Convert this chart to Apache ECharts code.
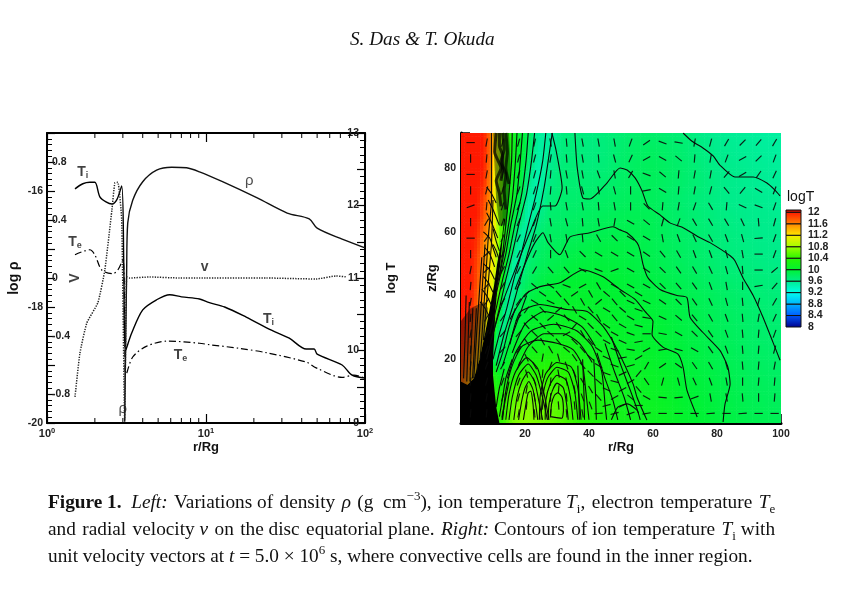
<!DOCTYPE html>
<html><head><meta charset="utf-8">
<style>html,body{margin:0;padding:0;background:#fff}#c{width:846px;height:591px}</style>
<script src="https://cdn.jsdelivr.net/npm/echarts@6/dist/echarts.min.js"></script>
</head><body><div id="c"></div>
<script>
// ---------- left panel data ----------
const rhoR=[3.08,3.17,3.22,3.46,4.00,4.89,6.08,7.55,9.10,12.7,21.0,32.4,44.6,50.0,71.8,100];
const rhoLog=[-19.98,-17.36,-16.55,-16.16,-15.84,-15.64,-15.59,-15.60,-15.67,-15.84,-16.12,-16.38,-16.48,-16.64,-16.83,-16.98];
const tiR=[1.50,1.68,1.86,2.00,2.15,2.35,2.56,2.75,2.95,3.04,3.11,3.41,4.00,4.89,5.91,7.02,9.10,10.5,13.1,17.9,25.8,33.4,42.7,47.9,50.0,71.8,82.9,100];
const tiLog=[12.23,12.30,12.32,12.32,12.12,12.05,12.02,12.08,12.27,11.2,9.99,10.24,10.56,10.70,10.77,10.74,10.71,10.66,10.60,10.46,10.28,10.17,10.02,10.02,9.95,9.80,9.66,9.62];
const teR=[1.50,1.86,2.00,2.21,2.59,2.79,3.00,3.08,3.13,3.46,4.24,5.74,9.10,10.5,16.2,23.9,42.7,49.3,71.8,85.3,100];
const teLog=[11.32,11.39,11.32,11.11,11.06,11.11,11.25,10.2,9.65,9.91,10.06,10.13,10.10,10.08,10.03,9.97,9.84,9.76,9.63,9.66,9.62];
const vR=[1.50,1.61,1.78,2.09,2.31,2.56,2.67,2.79,2.95,3.08,3.17,3.31,4.42,6.82,9.10,23.9,49.3,65.8,77.1];
const vVal=[-0.82,-0.52,-0.31,-0.17,0.055,0.47,0.655,0.66,0.40,-0.98,0.007,0,0.007,0,0,0,-0.007,0.014,0.007];
const logMinorTicks=[2,3,4,5,6,7,8,9,20,30,40,50,60,70,80,90];
const rhoTickLabels=['-16','-18','-20'];
const vTickLabels=['0.8','0.4','0','-0.4','-0.8'];
const tTickLabels=['13','12','11','10','9'];
// annotations, in (r, log T) data space
const curveNotes=[[1.68,12.46,'{b|T}{s|i}'],[1.50,11.50,'{b|T}{s|e}'],[9.8,11.15,'{b|v}'],[18.7,12.34,'{g|ρ}'],[24.7,10.43,'{b|T}{s|i}'],[6.92,9.94,'{b|T}{s|e}'],[3.0,9.2,'{g|ρ}']];
const rotatedNotes=[[1.50,11.0,'V']];

// ---------- right panel data ----------
const rKnots=[0,3,5,7,9,11,13,15,17,19,21,24,28,32,36,40,45,50,55,60,65,70,75,80,85,90,95,100];
const zKnots=[91,85,80,75,70,65,60,55,50,45,40,35,30,25,20,15,10,5,0];
const logTField=[
[12,12,12,12,11.7,11.1,10.65,10.35,10.1,10.0,9.85,9.55,9.5,9.68,9.68,9.65,9.68,9.72,9.75,9.75,9.72,9.7,9.62,9.58,9.56,9.54,9.52,9.52],
[12,12,12,12,11.7,11.1,10.65,10.35,10.1,10.0,9.8,9.5,9.55,9.68,9.68,9.66,9.68,9.74,9.78,9.8,9.76,9.72,9.66,9.6,9.58,9.56,9.54,9.52],
[12,12,12,12,11.65,11.05,10.6,10.3,10.08,9.95,9.7,9.45,9.6,9.7,9.7,9.68,9.7,9.76,9.8,9.82,9.78,9.74,9.68,9.62,9.6,9.58,9.56,9.54],
[12,12,12,11.95,11.6,11.0,10.55,10.25,10.05,9.9,9.6,9.45,9.65,9.72,9.72,9.72,9.74,9.78,9.8,9.82,9.78,9.74,9.7,9.64,9.6,9.58,9.56,9.55],
[12,12,12,11.85,11.55,11.0,10.5,10.2,10,9.8,9.5,9.5,9.7,9.74,9.74,9.76,9.78,9.8,9.82,9.82,9.76,9.72,9.68,9.64,9.6,9.6,9.58,9.56],
[12,12,12,11.8,11.5,11.0,10.45,10.1,9.9,9.7,9.45,9.6,9.74,9.76,9.78,9.8,9.82,9.84,9.85,9.84,9.78,9.74,9.7,9.66,9.63,9.6,9.6,9.58],
[12,12,11.95,11.7,11.45,11.0,10.4,10.05,9.75,9.5,9.55,9.7,9.78,9.8,9.82,9.84,9.86,9.88,9.88,9.85,9.8,9.76,9.72,9.68,9.65,9.62,9.6,9.6],
[12,12,11.9,11.6,11.3,11,10.3,9.95,9.6,9.5,9.65,9.75,9.82,9.85,9.88,9.9,9.92,9.92,9.9,9.86,9.82,9.78,9.74,9.7,9.66,9.64,9.62,9.6],
[12,12,11.85,11.55,11.25,11,10.3,9.75,9.45,9.6,9.72,9.8,9.86,9.9,9.94,9.95,9.95,9.94,9.92,9.88,9.84,9.8,9.76,9.72,9.68,9.66,9.64,9.62],
[12,12,11.8,11.5,11.2,10.9,10.1,9.5,9.55,9.7,9.8,9.88,9.94,9.98,10,10,10,9.98,9.95,9.92,9.88,9.84,9.8,9.76,9.72,9.7,9.68,9.66],
[12,12,11.75,11.45,11.2,10.7,9.85,9.5,9.65,9.8,9.88,9.94,10,10.04,10.04,10.04,10.02,10,9.98,9.95,9.92,9.88,9.84,9.8,9.76,9.72,9.7,9.68],
[12,11.95,11.7,11.4,11.1,10.5,9.6,9.6,9.8,9.92,10,10.02,10.05,10.08,10.08,10.06,10.04,10.02,10,9.98,9.94,9.9,9.86,9.82,9.78,9.75,9.72,9.7],
[12,11.85,11.6,11.3,10.9,10,9.55,9.8,9.95,10,10.04,10.07,10.1,10.12,10.12,10.1,10.08,10.05,10.02,10,9.96,9.92,9.88,9.84,9.8,9.76,9.74,9.72],
[11.95,11.75,11.5,11.2,10.5,9.7,9.7,9.95,10.03,10.08,10.12,10.15,10.18,10.2,10.18,10.14,10.1,10.07,10.05,10.02,9.98,9.94,9.9,9.86,9.82,9.78,9.76,9.74],
[11.9,11.6,11.4,11,10.2,9.7,9.9,10.05,10.12,10.2,10.25,10.28,10.3,10.28,10.24,10.2,10.15,10.1,10.08,10.05,10,9.96,9.92,9.88,9.84,9.8,9.78,9.76],
[11.8,11.5,11.2,10.9,10.4,10.2,10.1,10.25,10.35,10.42,10.42,10.4,10.42,10.4,10.32,10.25,10.2,10.14,10.1,10.08,10.04,9.98,9.94,9.9,9.86,9.82,9.8,9.78],
[11.6,11.3,11,10.8,10.5,10.3,10.3,10.45,10.55,10.6,10.6,10.55,10.52,10.48,10.38,10.3,10.22,10.16,10.12,10.1,10.06,10,9.96,9.92,9.88,9.84,9.82,9.8],
[11.4,11.1,10.9,10.7,10.5,10.4,10.4,10.55,10.65,10.7,10.7,10.65,10.6,10.52,10.42,10.33,10.25,10.18,10.14,10.12,10.08,10.02,9.98,9.94,9.9,9.86,9.84,9.82],
[11.2,11,10.8,10.6,10.5,10.4,10.45,10.6,10.7,10.72,10.72,10.68,10.62,10.54,10.44,10.35,10.27,10.2,10.16,10.14,10.1,10.04,10,9.96,9.92,9.88,9.86,9.84]
];
// colour scale
const scaleLevels=[8,8.1,8.4,8.8,9.2,9.6,10,10.4,10.8,11.2,11.6,12,12.1];
const scaleColors=['#00008c','#0000ff','#005aff','#00b4ff','#00ffeb','#00ec8c','#00f232','#28f500','#a0ff00','#ffeb00','#ff8200','#ff1900','#8c0000'];
const legendBands=[8,8.4,8.8,9.2,9.6,10,10.4,10.8,11.2,11.6,12];
const legendTickLabels=['12','11.6','11.2','10.8','10.4','10','9.6','9.2','8.8','8.4','8'];

// unit-vector grid: angle (deg from +r) per (z row, r column)
const vecR=[3,8,13,18,23,28,33,38,43,48,53,58,63,68,73,78,83,88,93,98];
const vecZ=[88,83,78,73,68,63,58,53,48,43,38,33,28,23,18,13,8,3];
const vecAngle=[
[0,80,75,75,78,100,95,100,100,100,70,35,-20,-10,80,75,60,45,50,60],
[90,85,78,75,75,80,95,100,95,105,65,30,-30,-40,85,80,70,30,45,70],
[0,80,78,72,75,85,100,100,110,100,60,-20,-40,85,80,80,50,30,55,65],
[90,75,75,70,72,85,95,105,100,105,90,10,-30,85,80,75,-50,50,-30,70],
[20,85,72,68,70,95,100,100,95,100,90,-45,85,80,70,-60,85,-25,-20,70],
[90,60,70,68,70,100,105,95,100,80,-30,-40,75,70,-60,-60,-60,-65,-85,75],
[0,55,68,65,68,100,100,95,-60,-45,-30,-30,100,-70,-65,-60,-70,-75,5,70],
[90,40,65,65,65,90,-70,-45,-30,-30,-30,-35,-50,-60,-70,-70,-75,100,0,70],
[80,45,62,63,60,-50,-50,-30,-20,20,-30,-35,-45,-55,-60,-65,-75,-85,0,40],
[85,50,60,60,-40,-35,-20,30,-60,-30,-30,-30,-45,-50,-55,-70,-80,-90,10,50],
[80,55,58,55,-30,-25,-50,-60,40,-50,-25,-25,-35,-45,-55,-65,-75,-85,75,60],
[85,60,55,50,-40,40,-50,-30,-60,-50,-30,-10,-25,-40,-50,-60,-70,-85,80,65],
[80,65,50,50,-45,-40,30,-60,-45,-30,-20,0,-10,-30,-45,-55,-70,-85,85,70],
[85,70,50,60,-50,-60,-40,-50,-35,-20,-10,30,10,-15,-30,-55,-70,-85,85,75],
[85,70,60,70,-60,70,-70,-50,-30,-20,15,60,35,-35,-55,-60,-75,-85,85,80],
[85,75,70,70,-70,85,-80,-60,-40,-15,30,-55,75,-75,-65,-70,-80,-90,85,85],
[85,80,75,75,-80,90,-85,-70,-50,30,-40,-30,-5,5,20,-80,-80,-85,90,85],
[85,85,80,80,-85,85,-85,-80,5,15,20,10,0,0,0,5,0,5,0,0]
];
// extra vectors in the denser inner region
const vecInnerR=[20.5,25.5,30.5,35.5,40.5,45.5,50.5,55.5];
const vecInnerZ=[40.5,35.5,30.5,25.5,20.5,15.5,10.5,5.5];
const vecInnerAngle=[
[50,-35,-50,35,-60,-40,-45,-30],
[55,-45,40,-60,-50,-30,-40,-20],
[-50,-45,-55,50,-45,-35,-30,-15],
[-55,-60,-50,-45,-50,-30,-25,10],
[-65,80,-75,-55,-40,-25,10,30],
[-75,85,-80,-70,-45,-20,25,50],
[80,-85,85,-80,-60,-25,30,-50],
[85,85,-85,-85,-70,15,25,0]
];
const vecHalfLength=1.3;

// hand-traced contour lines, [r, z]
const contourLines=[
[[69.4,91],[72.2,88.4],[75.6,86.3],[78.8,83.8],[80.9,80.9],[85.6,77.2],[91.3,77.2],[95.6,75.3],[98.1,73.1],[99.7,71.3]],
[[35.6,91],[36.3,80.3],[38.1,70.6],[40.3,70.3],[45.6,75.3],[49.7,80],[51.9,79.4],[54.4,76.9],[56.6,72.8],[58.4,68.1],[62.2,65.3],[65.3,62.8],[69.4,61.3],[74.7,58.1],[77.8,56.6],[84.1,52.5],[85.6,50.9],[88.1,45.6],[91.3,40],[94.4,33.1],[97.5,25.3],[99.7,19.7]],
[[28.4,91],[29.7,85.6],[31.6,73.8],[29.4,68.1],[25.6,68.1],[21.6,60],[16.9,48.1],[12.2,35.6],[9.1,24.7]],
[[16.9,41.9],[20.6,51.3],[23.1,56.6],[25.6,59.7],[27.2,56.6],[30.9,52.8],[34.1,58.4],[40.3,59.7],[47.5,61.6],[49.7,60.6],[51.9,59.7],[55,56.6],[55.9,54.4],[56.9,49.7],[58.4,45.6],[62.2,41.9],[67.5,40],[70.6,39.4],[71.6,33.1],[75.6,28.4],[80.9,22.8],[83.4,17.5],[84.1,12.2],[82.5,5.9],[81.9,0.3]],
[[15.3,32.5],[20,40.3],[24.7,42.8],[30.9,44],[38.1,48.1],[44.4,45.9],[49.7,41.9],[54.4,38.8],[57.5,35],[60,31.9],[59.7,27.8],[63.1,23.8],[67.8,21.6],[69.4,17.5],[70.6,10.3],[73.8,1.9]],
[[15.3,24.7],[18.4,34.7],[24.7,37.2],[33.1,35.6],[39.4,35],[44.4,30.3],[48.8,23.1],[53.8,12.2],[55,8.1],[58.1,0.9]],
// convective cells
[[24.5,1],[24.8,9],[26.5,15.5],[30,19],[34.5,17.5],[36.5,11],[37.5,1]],
[[25,1],[25.5,8],[27,14],[30,17.5],[33.5,16],[35.5,10],[36.5,1]],
[[26.3,1],[26.5,7],[27.8,12],[30,15],[32.8,13.5],[34.2,8],[35,1]],
[[27.2,1],[27.5,6],[28.5,10],[30,12.5],[32,11],[33,6],[33.5,1]],
[[28,2],[28.3,6],[29.2,8.7],[30.3,9.5],[31.6,8],[32,4],[31.5,1.5],[28,2]],
[[14,1],[15,9],[17,16],[20.5,20.5],[24,17],[26,9],[27.5,1]],
[[15,1],[16,8],[18,15],[21,18.5],[23.5,15],[25.5,8],[27,1]],
[[16.5,1],[17.5,8],[19,13],[21,16],[23,13],[24.3,7],[25.5,1]],
[[18,1],[19,7],[20,11],[21.2,13],[22.5,10.5],[23.3,6],[24,1]],
[[19.5,1],[20.3,6],[21,9.5],[21.8,10],[22.5,6],[22.8,1]],
[[13,1],[14,10],[16,18],[19,24],[24,26],[30,25],[35,23],[38,18],[39,10],[40,1]],
[[14.5,14],[17,22],[22,29],[29,31],[36,29],[41,24],[44,16],[45,6],[45.5,1]],
[[16,22],[20,31],[26,35],[32,33.5],[38,30],[42,24]],[[18,18],[21,24],[26,28],[32,28],[37,25],[41,19]],
[[12,2],[13,8],[14,14],[16,20]],[[12.8,1],[13.8,7],[15,13]],[[11,5],[12,11],[13.5,17]],
[[36.5,18],[36.8,10],[37,1]],[[38,20],[38.4,10],[38.6,1]],[[41.5,20],[42,10],[42.3,1]],
[[47,27],[50,18],[53,10],[55.5,3]],[[45,25],[48,16],[51,8],[53,1]],[[42.5,22],[45,14],[47.5,7],[49,1]],
[[47,1],[49,5],[52,6],[55,4],[56,1]],
// lines along the valley
[[8,20],[10,28],[12,36],[14,45],[16,53],[18,62],[20.5,72],[22,82],[23,91]],
[[9,28],[11,36],[13,45],[15,53],[16.8,62],[19,72],[20.3,82],[21,91]],
[[10,36],[12,45],[14,53],[15.5,62],[17.5,72],[18.5,82],[19.2,91]],
[[11,42],[12.8,50],[14.5,60],[16,70],[17,82],[17.5,91]],
[[11.8,45],[13,53],[14,62],[15,72],[15.8,82],[16,91]],
[[10,20],[12,28],[14.3,36],[16.5,45],[18.8,53],[21,62],[23.5,72],[25.5,82],[26.5,91]],
[[11,18],[13.5,28],[16,36],[18.5,45],[20.8,53],[23.5,62],[26,74],[27.5,84],[28.5,91]],
[[13,18],[15.5,26],[18,33],[20.5,40]],[[11,16],[13,22],[15,30],[17,36]],
// hot column
[[0.8,14],[1.2,25],[1.6,40]],[[1.8,13],[2.2,25],[2.6,38]],[[2.8,13],[3.2,24],[3.7,36]],[[3.6,14],[4.2,24],[4.8,36]],
[[4,14],[5,30],[6.5,52]],[[5,16],[6,32],[7.5,56]],
[[6,20],[7,34],[8.5,58],[9.5,70],[9.5,91]],[[7,26],[8,38],[9.5,56],[10,70]],
[[7,60],[9,58],[10,55],[11,52]],[[7.5,55],[9,53],[10.5,49]],[[7,50],[9,48],[10.5,45]],[[7,46],[8.5,44],[10,41]],
[[6.5,42],[8,40],[9.5,37]],[[6,38],[7.5,36],[9,33]],[[8,66],[9.5,63],[11.5,58]],[[8.5,70],[10,67],[12,62]],
[[8,74],[9.5,72],[11,69]],[[10,61],[11,57],[12,54]],[[10,56],[11,54],[12,51]]
];
const darkContours=[
[[11,91],[10.5,85],[12.5,80],[11,76],[12,72],[12.5,68]],
[[13,91],[13.5,86],[12.5,82],[14,78],[13.5,73],[14,67]],
[[12,91],[12,87],[13,84],[13,80],[12.5,76]],
[[14,91],[14.5,85],[14,80],[15,75]]
];
// interior of the innermost, fully merged contours
const mergedContours=[[0,0],[0,13],[2,12],[4,14],[5.8,20],[7.5,28],[9,36],[10.3,43],[11.3,50],[12.8,58],[13.5,64],[13.8,64],[13,58],[12.3,50],[11.4,43],[10.8,36],[10.4,28],[10,20],[10,15],[10.5,10],[11,5],[12,0]];
// zones where contours crowd and darken the colour
const crowdedZones=[
 [[10,91],[15,91],[15.5,80],[15,70],[14,62],[12,62],[11,70],[10.5,80]],
 [[0,13],[0,32],[3,36],[7,38],[8.5,36],[7.5,28],[5.8,20],[4,14],[2,12]]
];

const captionLines=[
 '{fb|Figure 1.}  {fi|Left:} \u200aVariations of \u200adensity \u200a{fi|ρ} \u200a(g  cm{su|−3}), \u200aion \u200atemperature {fi|T}{sb|i}, \u200aelectron \u200atemperature \u200a{fi|T}{sb|e}',
 'and \u200aradial \u200avelocity {fi|v} \u200aon \u200athe disc \u200aequatorial plane. \u200a{fi|Right:} Contours \u200aof ion \u200atemperature \u200a{fi|T}{sb|i} with',
 'unit velocity vectors at {fi|t} = 5.0 × 10{su|6} s, where convective cells are found in the inner region.'
];
const runningHead='S. Das & T. Okuda';

// ---------- helpers ----------
const SANS='"Liberation Sans",Arial,sans-serif', SERIF='"Liberation Serif","Times New Roman",serif';
function colorAt(v){
  if(v<=scaleLevels[0])return scaleColors[0];
  for(let i=1;i<scaleLevels.length;i++){
    if(v<=scaleLevels[i]){
      return echarts.color.lerp((v-scaleLevels[i-1])/(scaleLevels[i]-scaleLevels[i-1]),[scaleColors[i-1],scaleColors[i]]);
    }
  }
  return scaleColors[scaleColors.length-1];
}
const zip=(a,b)=>a.map((x,i)=>[x,b[i]]);
const cells=[];
for(let j=0;j<zKnots.length-1;j++)for(let i=0;i<rKnots.length-1;i++)cells.push([i,j]);
const vectors=[];
vecZ.forEach((z,j)=>vecR.forEach((r,i)=>vectors.push([r,z,vecAngle[j][i]])));
vecInnerZ.forEach((z,j)=>vecInnerR.forEach((r,i)=>vectors.push([r,z,vecInnerAngle[j][i]])));

function renderCell(params,api){
  const i=api.value(0),j=api.value(1);
  const r0=rKnots[i],r1=rKnots[i+1],z0=zKnots[j],z1=zKnots[j+1];
  const a=api.coord([r0,z0]),b=api.coord([r1,z1]);
  const w=b[0]-a[0],h=b[1]-a[1];
  const nx=Math.max(1,Math.round(w/3)),ny=Math.max(1,Math.round(h/3));
  const v00=logTField[j][i],v10=logTField[j][i+1],v01=logTField[j+1][i],v11=logTField[j+1][i+1];
  const kids=[];
  for(let p=0;p<nx;p++)for(let q=0;q<ny;q++){
    const s=(p+.5)/nx,t=(q+.5)/ny;
    const v=(v00*(1-s)+v10*s)*(1-t)+(v01*(1-s)+v11*s)*t;
    kids.push({type:'rect',shape:{x:a[0]+p*w/nx,y:a[1]+q*h/ny,width:w/nx+.6,height:h/ny+.6},style:{fill:colorAt(v)},silent:true});
  }
  return {type:'group',children:kids};
}
function renderVector(params,api){
  const r=api.value(0),z=api.value(1),ang=api.value(2)*Math.PI/180;
  const dx=vecHalfLength*Math.cos(ang),dz=vecHalfLength*Math.sin(ang);
  const p=api.coord([r-dx,z-dz]),q=api.coord([r+dx,z+dz]);
  return {type:'line',shape:{x1:p[0],y1:p[1],x2:q[0],y2:q[1]},style:{stroke:'#0a0a0a',lineWidth:1.15,opacity:.9}};
}
function renderBand(params,api){
  const lo=api.value(0),hi=Math.min(lo+.4,12.08);
  const p=api.coord([0,hi]),q=api.coord([1,lo]);
  const grad=new echarts.graphic.LinearGradient(0,0,0,1,[{offset:0,color:colorAt(hi)},{offset:1,color:colorAt(lo)}]);
  return {type:'rect',shape:{x:p[0],y:p[1],width:q[0]-p[0],height:q[1]-p[1]},style:{fill:grad,stroke:'#111',lineWidth:1}};
}
function renderMinorTick(params,api){
  const x=api.value(0);
  const b=api.coord([x,-20]),t=api.coord([x,-15]);
  const s={stroke:'#000',lineWidth:1};
  return {type:'group',children:[
    {type:'line',shape:{x1:b[0],y1:b[1],x2:b[0],y2:b[1]-5},style:s},
    {type:'line',shape:{x1:t[0],y1:t[1],x2:t[0],y2:t[1]+5},style:s}]};
}

const blackLine={show:true,onZero:false,lineStyle:{color:'#000',width:2}};
const tickLab={color:'#222',fontFamily:SANS,fontWeight:'bold',fontSize:10.5};

const series=[];
const baseLine=(name,data,style)=>({type:'line',name,data,xAxisIndex:0,yAxisIndex:2,showSymbol:false,symbol:'none',smooth:.3,lineStyle:Object.assign({color:'#000',width:1.4},style),z:3,silent:true});
series.push(Object.assign(baseLine('rho',zip(rhoR,rhoLog),{width:1.4,color:'#111'}),{yAxisIndex:0}));
series.push(baseLine('Ti',zip(tiR,tiLog),{}));
series.push(baseLine('Te',zip(teR,teLog),{type:[7,3,1.5,3],width:1.2}));
series.push(Object.assign(baseLine('v',zip(vR,vVal),{type:[1.3,1.3],width:1.5,color:'#222'}),{yAxisIndex:1,smooth:.15}));
series.push({type:'custom',xAxisIndex:0,yAxisIndex:0,data:logMinorTicks.map(v=>[v]),renderItem:renderMinorTick,silent:true,z:6,encode:{x:0}});
series.push({type:'scatter',xAxisIndex:0,yAxisIndex:2,symbolSize:0,silent:true,z:5,data:curveNotes,
  label:{show:true,position:'inside',formatter:p=>p.data[2],rich:{
    b:{fontFamily:SANS,fontWeight:'bold',fontSize:14,color:'#111'},
    s:{fontFamily:SANS,fontWeight:'bold',fontSize:9,color:'#111',verticalAlign:'bottom',padding:[7,0,0,0]},
    g:{fontFamily:SANS,fontSize:15,color:'#222'}}}});
series.push({type:'scatter',xAxisIndex:0,yAxisIndex:2,symbolSize:0,silent:true,z:5,data:rotatedNotes,
  label:{show:true,position:'inside',rotate:90,formatter:p=>p.data[2],fontFamily:SANS,fontWeight:'bold',fontSize:14,color:'#111'}});
// right panel
series.push({type:'custom',xAxisIndex:2,yAxisIndex:3,data:cells,renderItem:renderCell,z:1,silent:true,clip:true,progressive:0});
series.push({type:'custom',xAxisIndex:2,yAxisIndex:3,z:2,silent:true,clip:true,data:crowdedZones.map((c,i)=>[i]),encode:{x:0},renderItem:(p,api)=>({type:'polygon',shape:{points:crowdedZones[api.value(0)].map(c=>api.coord(c))},style:{fill:'#000',opacity:.42}})});
series.push({type:'custom',xAxisIndex:2,yAxisIndex:3,z:2,silent:true,clip:true,data:[0],renderItem:(p,api)=>({type:'polygon',shape:{points:mergedContours.map(c=>api.coord(c))},style:{fill:'#000'}})});
contourLines.forEach((c,i)=>series.push({type:'line',name:'contour'+i,xAxisIndex:2,yAxisIndex:3,data:c,showSymbol:false,symbol:'none',smooth:.2,silent:true,z:3,lineStyle:{color:'#0a0a0a',width:1.1}}));
darkContours.forEach((c,i)=>series.push({type:'line',name:'dark'+i,xAxisIndex:2,yAxisIndex:3,data:c,showSymbol:false,symbol:'none',smooth:.2,silent:true,z:3,lineStyle:{color:'#000',width:3,opacity:.7}}));
series.push({type:'custom',xAxisIndex:2,yAxisIndex:3,data:vectors,renderItem:renderVector,z:4,silent:true,clip:true,progressive:0});
// legend
series.push({type:'custom',xAxisIndex:3,yAxisIndex:4,data:legendBands.map(v=>[v]),renderItem:renderBand,z:2,silent:true,encode:{y:0}});

const option={
 animation:false,backgroundColor:'#fff',
 grid:[
  {left:47,top:133,width:318,height:290},
  {left:461,top:133,width:320,height:290},
  {left:786,top:210,width:15,height:117}
 ],
 xAxis:[
  {type:'log',gridIndex:0,min:1,max:100,logBase:10,position:'bottom',axisLine:blackLine,
   axisTick:{inside:true,length:9,lineStyle:{color:'#000',width:1.2}},minorTick:{show:false},splitLine:{show:false},
   axisLabel:Object.assign({},tickLab,{margin:4,formatter:v=>'{a|10}{e|'+Math.round(Math.log10(v))+'}',rich:{a:{fontFamily:SANS,fontWeight:'bold',fontSize:11,color:'#222'},e:{fontFamily:SANS,fontWeight:'bold',fontSize:7.5,color:'#222',verticalAlign:'top',padding:[0,0,6,0]}}}),
   name:'r/Rg',nameLocation:'middle',nameGap:18,nameTextStyle:{fontFamily:SANS,fontWeight:'bold',fontSize:13,color:'#111'}},
  {type:'log',gridIndex:0,min:1,max:100,logBase:10,position:'top',axisLine:blackLine,
   axisTick:{inside:true,length:9,lineStyle:{color:'#000',width:1.2}},minorTick:{show:false},splitLine:{show:false},axisLabel:{show:false}},
  {type:'value',gridIndex:1,min:0,max:100,interval:20,axisLine:Object.assign({},blackLine,{lineStyle:{color:'#000',width:3}}),
   axisTick:{inside:true,length:9,lineStyle:{color:'#000',width:1.5}},minorTick:{show:true,splitNumber:4,length:4,lineStyle:{color:'#000'}},splitLine:{show:false},
   axisLabel:Object.assign({},tickLab,{margin:6,formatter:v=>v===0?'':String(v)}),
   name:'r/Rg',nameLocation:'middle',nameGap:18,nameTextStyle:{fontFamily:SANS,fontWeight:'bold',fontSize:13,color:'#111'}},
  {type:'value',gridIndex:2,min:0,max:1,show:false}
 ],
 yAxis:[
  {type:'value',gridIndex:0,min:-20,max:-15,interval:2,position:'left',axisLine:blackLine,axisTick:{show:false},splitLine:{show:false},
   axisLabel:Object.assign({},tickLab,{margin:4,formatter:v=>rhoTickLabels.includes(String(v))?String(v):''}),
   name:'log ρ',nameLocation:'middle',nameGap:26,nameTextStyle:{fontFamily:SANS,fontWeight:'bold',fontSize:14,color:'#111'}},
  {type:'value',gridIndex:0,min:-1,max:1,interval:.2,position:'left',axisLine:{show:false},
   axisTick:{inside:true,length:8,lineStyle:{color:'#000',width:1.2}},minorTick:{show:true,splitNumber:5,length:5,lineStyle:{color:'#000'}},splitLine:{show:false},
   axisLabel:Object.assign({},tickLab,{inside:true,margin:5,formatter:v=>{const s=String(parseFloat(v.toFixed(1)));return vTickLabels.includes(s)?s:'';}})},
  {type:'value',gridIndex:0,min:9,max:13,interval:.5,position:'right',axisLine:blackLine,
   axisTick:{inside:true,length:8,lineStyle:{color:'#000',width:1.2}},minorTick:{show:true,splitNumber:5,length:5,lineStyle:{color:'#000'}},splitLine:{show:false},
   axisLabel:Object.assign({},tickLab,{inside:true,margin:6,formatter:v=>tTickLabels.includes(String(v))?String(v):''}),
   name:'log T',nameLocation:'middle',nameGap:20,nameRotate:90,nameTextStyle:{fontFamily:SANS,fontWeight:'bold',fontSize:13,color:'#111'}},
  {type:'value',gridIndex:1,min:0,max:91,interval:20,axisLine:Object.assign({},blackLine,{lineStyle:{color:'#000',width:3}}),
   axisTick:{inside:true,length:9,lineStyle:{color:'#000',width:1.5}},minorTick:{show:true,splitNumber:4,length:4,lineStyle:{color:'#000'}},splitLine:{show:false},
   axisLabel:Object.assign({},tickLab,{margin:5,formatter:v=>(v===0||v%20)?'':String(v)}),
   name:'z/Rg',nameLocation:'middle',nameGap:22,nameTextStyle:{fontFamily:SANS,fontWeight:'bold',fontSize:13,color:'#111'}},
  {type:'value',gridIndex:2,min:8,max:12.08,interval:.4,position:'right',axisLine:{show:false},axisTick:{show:false},splitLine:{show:false},
   axisLabel:Object.assign({},tickLab,{margin:7,formatter:v=>{const s=String(parseFloat(v.toFixed(1)));return legendTickLabels.includes(s)&&v<=12?s:'';}})}
 ],
 graphic:[
  {type:'text',left:350,top:30,style:{text:runningHead,font:'italic 19.2px '+SERIF,fill:'#111'}},
  {type:'text',left:787,top:190,style:{text:'logT',font:'14px '+SANS,fill:'#111'}}
 ].concat(captionLines.map((t,i)=>({type:'text',left:48,top:[490,517,544][i],style:{text:t,font:'19.3px '+SERIF,fill:'#111',lineHeight:26,rich:{
   fb:{font:'bold 19.3px '+SERIF,fill:'#111'},fi:{font:'italic 19.3px '+SERIF,fill:'#111'},
   su:{font:'13px '+SERIF,fill:'#111',verticalAlign:'top',lineHeight:18},
   sb:{font:'13px '+SERIF,fill:'#111',verticalAlign:'bottom',lineHeight:20}}}}))),
 series
};
const chart=echarts.init(document.getElementById('c'),null,{renderer:'canvas'});
chart.setOption(option);
</script></body></html>
